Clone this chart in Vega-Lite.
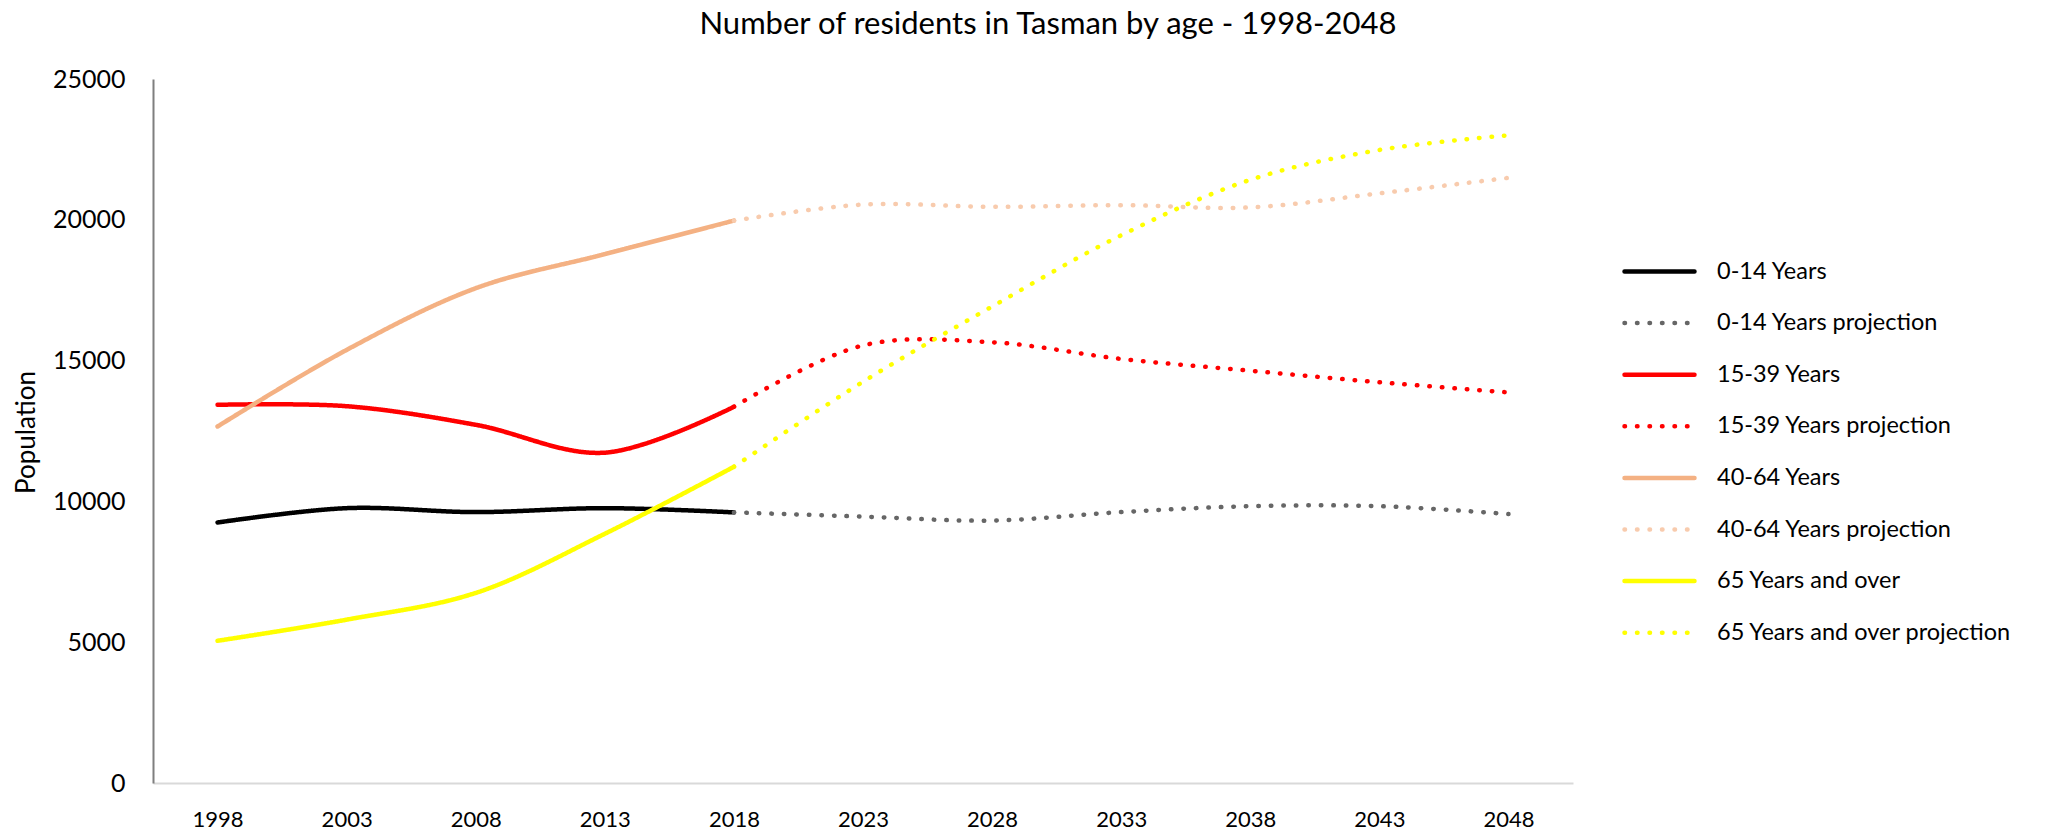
{
  "$schema": "https://vega.github.io/schema/vega-lite/v6.json",
  "width": 1420,
  "height": 704,
  "autosize": {"type": "none"},
  "padding": {"left": 153, "top": 79, "right": 498, "bottom": 52},
  "background": "white",
  "title": {
    "text": "Number of residents in Tasman by age - 1998-2048",
    "font": "Lato",
    "fontSize": 31,
    "fontWeight": "normal",
    "color": "#000000",
    "anchor": "middle",
    "frame": "group",
    "dx": 185,
    "offset": 26
  },
  "data": {
    "values": [
      {"year": 1998, "series": "0-14 Years", "value": 9250},
      {"year": 2003, "series": "0-14 Years", "value": 9760},
      {"year": 2008, "series": "0-14 Years", "value": 9620},
      {"year": 2013, "series": "0-14 Years", "value": 9760},
      {"year": 2018, "series": "0-14 Years", "value": 9610},
      {"year": 2018, "series": "0-14 Years projection", "value": 9610},
      {"year": 2023, "series": "0-14 Years projection", "value": 9460},
      {"year": 2028, "series": "0-14 Years projection", "value": 9320},
      {"year": 2033, "series": "0-14 Years projection", "value": 9620},
      {"year": 2038, "series": "0-14 Years projection", "value": 9830},
      {"year": 2043, "series": "0-14 Years projection", "value": 9830},
      {"year": 2048, "series": "0-14 Years projection", "value": 9550},
      {"year": 1998, "series": "15-39 Years", "value": 13430},
      {"year": 2003, "series": "15-39 Years", "value": 13380},
      {"year": 2008, "series": "15-39 Years", "value": 12720},
      {"year": 2013, "series": "15-39 Years", "value": 11730},
      {"year": 2018, "series": "15-39 Years", "value": 13360},
      {"year": 2018, "series": "15-39 Years projection", "value": 13360},
      {"year": 2023, "series": "15-39 Years projection", "value": 15540},
      {"year": 2028, "series": "15-39 Years projection", "value": 15650},
      {"year": 2033, "series": "15-39 Years projection", "value": 15060},
      {"year": 2038, "series": "15-39 Years projection", "value": 14640},
      {"year": 2043, "series": "15-39 Years projection", "value": 14230},
      {"year": 2048, "series": "15-39 Years projection", "value": 13870},
      {"year": 1998, "series": "40-64 Years", "value": 12660},
      {"year": 2003, "series": "40-64 Years", "value": 15380},
      {"year": 2008, "series": "40-64 Years", "value": 17570},
      {"year": 2013, "series": "40-64 Years", "value": 18780},
      {"year": 2018, "series": "40-64 Years", "value": 19970},
      {"year": 2018, "series": "40-64 Years projection", "value": 19970},
      {"year": 2023, "series": "40-64 Years projection", "value": 20540},
      {"year": 2028, "series": "40-64 Years projection", "value": 20460},
      {"year": 2033, "series": "40-64 Years projection", "value": 20520},
      {"year": 2038, "series": "40-64 Years projection", "value": 20440},
      {"year": 2043, "series": "40-64 Years projection", "value": 20940},
      {"year": 2048, "series": "40-64 Years projection", "value": 21490},
      {"year": 1998, "series": "65 Years and over", "value": 5050},
      {"year": 2003, "series": "65 Years and over", "value": 5800},
      {"year": 2008, "series": "65 Years and over", "value": 6750},
      {"year": 2013, "series": "65 Years and over", "value": 8850},
      {"year": 2018, "series": "65 Years and over", "value": 11230},
      {"year": 2018, "series": "65 Years and over projection", "value": 11230},
      {"year": 2023, "series": "65 Years and over projection", "value": 14250},
      {"year": 2028, "series": "65 Years and over projection", "value": 16920},
      {"year": 2033, "series": "65 Years and over projection", "value": 19450},
      {"year": 2038, "series": "65 Years and over projection", "value": 21420},
      {"year": 2043, "series": "65 Years and over projection", "value": 22480},
      {"year": 2048, "series": "65 Years and over projection", "value": 23000}
    ]
  },
  "mark": {"type": "line", "interpolate": "catmull-rom", "strokeWidth": 4.5, "strokeCap": "round"},
  "encoding": {
    "x": {
      "field": "year",
      "type": "ordinal",
      "scale": {"type": "point", "padding": 0.5},
      "axis": {
        "title": null,
        "labelAngle": 0,
        "labelFont": "Lato",
        "labelFontSize": 22,
        "labelColor": "#000000",
        "labelPadding": 26,
        "ticks": false,
        "domainColor": "#d9d9d9",
        "domainWidth": 2,
        "grid": false
      }
    },
    "y": {
      "field": "value",
      "type": "quantitative",
      "scale": {"domain": [0, 25000], "nice": false},
      "axis": {
        "title": "Population",
        "titleFont": "Lato",
        "titleFontSize": 26,
        "titleFontWeight": "normal",
        "titleColor": "#000000",
        "titleAngle": 270,
        "titleBaseline": "middle",
        "titleX": -127,
        "titleY": 353,
        "values": [0, 5000, 10000, 15000, 20000, 25000],
        "format": "d",
        "labelFont": "Lato",
        "labelFontSize": 25,
        "labelColor": "#000000",
        "labelPadding": 28,
        "ticks": false,
        "domainColor": "#7f7f7f",
        "domainWidth": 2,
        "grid": false
      }
    },
    "color": {
      "field": "series",
      "type": "nominal",
      "scale": {
        "domain": ["0-14 Years", "0-14 Years projection", "15-39 Years", "15-39 Years projection", "40-64 Years", "40-64 Years projection", "65 Years and over", "65 Years and over projection"],
        "range": ["#000000", "#666666", "#ff0000", "#ff0000", "#f4b183", "#f8cbad", "#ffff00", "#ffff00"]
      },
      "legend": {
        "title": null,
        "orient": "none",
        "legendX": 1469,
        "legendY": 155,
        "symbolType": "stroke",
        "symbolSize": 4900,
        "symbolStrokeWidth": 4.5,
        "labelFont": "Lato",
        "labelFontSize": 23.5,
        "labelColor": "#000000",
        "labelOffset": 20,
        "labelLimit": 0,
        "rowPadding": 2.6,
        "encode": {"symbols": {"update": {"strokeCap": {"value": "round"}}}}
      }
    },
    "strokeDash": {
      "field": "series",
      "type": "nominal",
      "scale": {
        "domain": ["0-14 Years", "0-14 Years projection", "15-39 Years", "15-39 Years projection", "40-64 Years", "40-64 Years projection", "65 Years and over", "65 Years and over projection"],
        "range": [[1, 0], [0.5, 12], [1, 0], [0.5, 12], [1, 0], [0.5, 12], [1, 0], [0.5, 12]]
      },
      "legend": {
        "title": null,
        "orient": "none",
        "legendX": 1469,
        "legendY": 155,
        "symbolType": "stroke",
        "symbolSize": 4900,
        "symbolStrokeWidth": 4.5,
        "labelFont": "Lato",
        "labelFontSize": 23.5,
        "labelColor": "#000000",
        "labelOffset": 20,
        "labelLimit": 0,
        "rowPadding": 2.6,
        "encode": {"symbols": {"update": {"strokeCap": {"value": "round"}}}}
      }
    }
  },
  "config": {"view": {"stroke": null}}
}
